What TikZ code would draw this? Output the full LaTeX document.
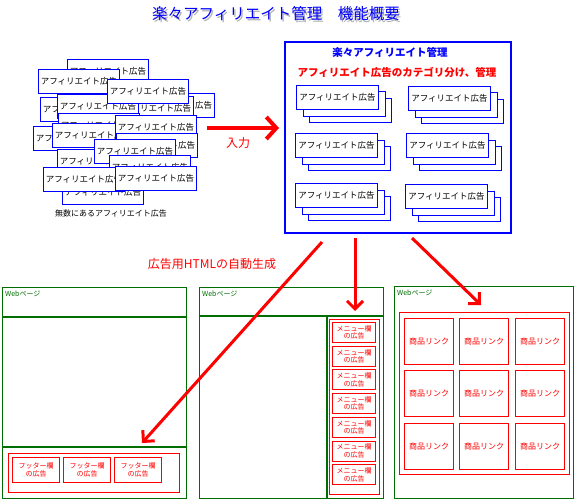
\documentclass[tikz,border=0pt]{standalone}
\usepackage{fontspec}
\setmainfont{Noto Sans CJK JP}
\usetikzlibrary{arrows.meta}
\definecolor{ablue}{RGB}{0,0,255}
\definecolor{ared}{RGB}{255,0,0}
\definecolor{agreen}{RGB}{0,110,0}
\begin{document}
\begin{tikzpicture}[x=1pt,y=-1pt,
  adbox/.style={draw=ablue, fill=white, line width=1pt, minimum width=81pt, minimum height=24pt, anchor=north west, inner sep=0pt, font=\fontsize{8.5}{9}\selectfont},
  stackbox/.style={draw=ablue, fill=white, line width=1pt, minimum width=82pt, minimum height=24pt, anchor=north west, inner sep=0pt, font=\fontsize{8.5}{9}\selectfont},
  page/.style={draw=agreen, line width=1.2pt, anchor=north west, inner sep=0pt},
  weblabel/.style={text=agreen, anchor=north west, inner sep=0pt, font=\fontsize{7}{8}\selectfont},
  redframe/.style={draw=ared, line width=1pt, anchor=north west, inner sep=0pt},
  menubox/.style={draw=ared, line width=1pt, anchor=north west, inner sep=0pt, minimum width=43pt, minimum height=20pt, text=ared, align=center, font=\fontsize{7}{7.5}\selectfont},
  footbox/.style={draw=ared, line width=1pt, anchor=north west, inner sep=0pt, minimum width=47pt, minimum height=25pt, text=ared, align=center, font=\fontsize{7}{8}\selectfont},
  linkbox/.style={draw=ared, line width=1pt, anchor=north west, inner sep=0pt, minimum width=49pt, minimum height=46pt, text=ared, font=\fontsize{8}{9}\selectfont},
  redarrow/.style={draw=ared, line width=3pt, -{Straight Barb[length=8pt,width=16pt,line width=3pt]}},
]
\useasboundingbox (0,0) rectangle (580,500);

% title with shadow
\node[text=gray!60, font=\fontsize{15.5}{17}\selectfont] at (277.5,15.5) {楽々アフィリエイト管理　機能概要};
\node[text=ablue, font=\fontsize{15.5}{17}\selectfont] (title) at (276,14) {楽々アフィリエイト管理　機能概要};

% pile of ads
\foreach \x/\y [count=\i] in {67/59,133/93,112/96,40/97,57/94,38/69,107/79,58/113,33/126,52/123,115/115,116/133,62/180,57/149,94/139,109/155,43/167,115/166}
  \node[adbox] (pile\i) at (\x,\y) {アフィリエイト広告};
\node[font=\fontsize{8}{9}\selectfont] (pilelabel) at (111,213) {無数にあるアフィリエイト広告};

% input arrow
\coordinate (inA) at (207,128);
\coordinate (inB) at (279,128);
\draw[draw=ared, line width=4pt, -{Straight Barb[length=10pt,width=22pt,line width=4pt]}] (inA) -- (inB);
\node[text=ared, font=\fontsize{12}{14}\selectfont] (inlabel) at (238,143) {入力};

% management box
\node[draw=ablue, line width=2pt, minimum width=226pt, minimum height=191pt, inner sep=0pt] (mgmt) at (398,137.5) {};
\node[text=ablue, font=\bfseries\fontsize{10.5}{12}\selectfont] (mgmttitle) at (390,52) {楽々アフィリエイト管理};
\node[text=ared, font=\bfseries\fontsize{10.5}{12}\selectfont] (mgmtsub) at (397,72) {アフィリエイト広告のカテゴリ分け、管理};

\foreach \x/\y [count=\i] in {296/85,408/86,295/133,406/133,295/183,405/184} {
  \node[stackbox] (g\i c) at (\x+13,\y+13) {};
  \node[stackbox] (g\i b) at (\x+6.5,\y+6.5) {};
  \node[stackbox] (g\i a) at (\x,\y) {アフィリエイト広告};
}

% arrows to pages
\coordinate (a1s) at (322,242);
\coordinate (a1e) at (142,443);
\coordinate (a2s) at (355,238);
\coordinate (a2e) at (355,311);
\coordinate (a3s) at (412,238);
\coordinate (a3e) at (481,305);
\node[text=ared, font=\fontsize{12}{14}\selectfont] (genlabel) at (212,264) {広告用HTMLの自動生成};

% left page
\node[page, minimum width=184pt, minimum height=211pt] (page1) at (2,287) {};
\node[weblabel] (web1) at (5,291) {Webページ};
\draw[agreen, line width=1.2pt] (2,317) -- (186,317);
\draw[agreen, line width=1.2pt] (2,447) -- (186,447);
\node[redframe, minimum width=171pt, minimum height=39pt] (foot) at (8,453) {};
\foreach \x [count=\i] in {12,63,114}
  \node[footbox] (fb\i) at (\x,457) {フッター欄\\の広告};

% middle page
\node[page, minimum width=184pt, minimum height=211pt] (page2) at (199,287) {};
\node[weblabel] (web2) at (202,291) {Webページ};
\draw[agreen, line width=1.2pt] (199,316) -- (383,316);
\draw[agreen, line width=1.2pt] (327,316) -- (327,498);
\node[redframe, minimum width=50pt, minimum height=175pt] (menu) at (329,319) {};
\foreach \k in {0,...,6}
  \node[menubox] (mb\k) at (332,322+23.7*\k) {メニュー欄\\の広告};

% right page
\node[page, minimum width=179pt, minimum height=212pt] (page3) at (394,286) {};
\node[weblabel] (web3) at (397,290) {Webページ};
\node[redframe, minimum width=170pt, minimum height=162pt] (grid) at (399,312) {};
\foreach \y [count=\r] in {318,370,423}
  \foreach \x [count=\c] in {404,459,515}
    \node[linkbox] (lk\r\c) at (\x,\y) {商品リンク};

% red arrows
\draw[redarrow] (a1s) -- (a1e);
\draw[redarrow] (a2s) -- (a2e);
\draw[redarrow] (a3s) -- (a3e);
\end{tikzpicture}
\end{document}
